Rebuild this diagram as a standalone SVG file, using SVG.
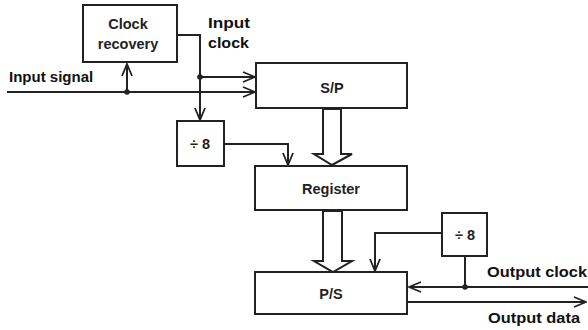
<svg xmlns="http://www.w3.org/2000/svg" width="588" height="330" viewBox="0 0 588 330">
<style>
.box{fill:#fff;stroke:#222;stroke-width:2}
.ln{fill:none;stroke:#222;stroke-width:2}
.t{font-family:"Liberation Sans",Arial,sans-serif;font-weight:bold;fill:#222;text-anchor:middle;font-size:14.5px}
.lbl{font-family:"Liberation Sans",Arial,sans-serif;font-weight:bold;fill:#111;font-size:15px}
.dot{fill:#222}
</style>
<defs>
<marker id="ah" viewBox="0 0 14 12" refX="13" refY="6" markerWidth="14" markerHeight="12" markerUnits="userSpaceOnUse" orient="auto">
<polyline points="1,1 13,6 1,11" fill="none" stroke="#222" stroke-width="1.8"/>
</marker>
</defs>
<g id="connectors">
<line class="ln" x1="7" y1="92" x2="255" y2="92" marker-end="url(#ah)"/>
<line class="ln" x1="127" y1="92" x2="127" y2="64" marker-end="url(#ah)"/>
<polyline class="ln" points="177,35 200,35 200,120" marker-end="url(#ah)"/>
<line class="ln" x1="200" y1="77" x2="255" y2="77" marker-end="url(#ah)"/>
<polyline class="ln" points="224,144 288,144 288,165" marker-end="url(#ah)"/>
<polygon class="ln" points="323,109 341,109 341,154 352,154 332,165 314,154 323,154"/>
<polygon class="ln" points="323,211 342,211 342,261 352,261 333,272 314,261 323,261"/>
<polyline class="ln" points="442,233 375,233 375,271" marker-end="url(#ah)"/>
<line class="ln" x1="588" y1="287" x2="409" y2="287" marker-end="url(#ah)"/>
<line class="ln" x1="465" y1="256" x2="465" y2="287"/>
<line class="ln" x1="408" y1="302" x2="586" y2="302" marker-end="url(#ah)"/>
<circle class="dot" cx="127" cy="92" r="2.8"/>
<circle class="dot" cx="200" cy="77" r="2.8"/>
<circle class="dot" cx="465" cy="287" r="2.8"/>
</g>
<g id="clock-recovery">
<rect class="box" x="83" y="5" width="94" height="57"/>
<text class="t" x="128" y="29">Clock</text>
<text class="t" x="128" y="49">recovery</text>
</g>
<g id="sp">
<rect class="box" x="256" y="63" width="151" height="45"/>
<text class="t" x="332" y="93">S/P</text>
</g>
<g id="div8a">
<rect class="box" x="177" y="121" width="47" height="45"/>
<text class="t" x="200" y="149">÷ 8</text>
</g>
<g id="register">
<rect class="box" x="255" y="166" width="152" height="44"/>
<text class="t" x="331" y="194">Register</text>
</g>
<g id="ps">
<rect class="box" x="255" y="272" width="152" height="42"/>
<text class="t" x="331" y="299">P/S</text>
</g>
<g id="div8b">
<rect class="box" x="442" y="213" width="45" height="43"/>
<text class="t" x="465" y="240">÷ 8</text>
</g>
<g id="labels">
<text class="lbl" x="208" y="28" textLength="42" lengthAdjust="spacingAndGlyphs">Input</text>
<text class="lbl" x="208" y="48" textLength="41" lengthAdjust="spacingAndGlyphs">clock</text>
<text class="lbl" x="9" y="82">Input signal</text>
<text class="lbl" x="487" y="277" textLength="100" lengthAdjust="spacingAndGlyphs">Output clock</text>
<text class="lbl" x="488" y="323" textLength="92" lengthAdjust="spacingAndGlyphs">Output data</text>
</g>
</svg>
